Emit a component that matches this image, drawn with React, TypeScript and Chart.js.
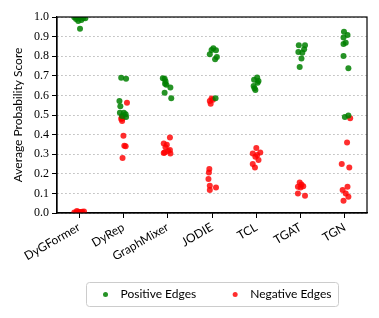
import React, { useEffect, useRef } from "react";
import { Chart, registerables } from "chart.js";

Chart.register(...registerables);

const categories = ["DyGFormer", "DyRep", "GraphMixer", "JODIE", "TCL", "TGAT", "TGN"];

const positiveValues: number[][] = [
  [0.999, 0.998, 0.997, 0.995, 0.993, 0.99, 0.985, 0.98, 0.94],
  [0.69, 0.685, 0.572, 0.545, 0.512, 0.512, 0.504, 0.49, 0.495],
  [0.687, 0.685, 0.672, 0.66, 0.64, 0.614, 0.586, 0.654],
  [0.84, 0.832, 0.83, 0.81, 0.796, 0.784, 0.586],
  [0.691, 0.68, 0.665, 0.648, 0.637, 0.627, 0.674],
  [0.856, 0.856, 0.835, 0.822, 0.817, 0.788, 0.745],
  [0.925, 0.908, 0.895, 0.869, 0.862, 0.801, 0.739, 0.49, 0.497],
];
const positiveJitter: number[][] = [
  [-0.11, -0.05, 0.02, 0.09, 0.14, -0.07, 0.05, -0.02, 0.02],
  [-0.05, 0.06, -0.09, -0.07, -0.08, 0.01, 0.05, 0.06, -0.03],
  [-0.11, -0.07, -0.05, -0.06, 0.06, -0.07, 0.08, -0.03],
  [0.03, -0.01, 0.09, -0.05, 0.11, 0.07, 0.08],
  [0.02, -0.05, 0.03, -0.06, -0.04, -0.02, 0.05],
  [-0.04, 0.1, 0.08, -0.05, 0.04, 0.02, -0.02],
  [-0.02, 0.06, -0.03, 0.02, -0.03, -0.03, 0.08, 0, 0.08],
];

const negativeValues: number[][] = [
  [0.002, 0.003, 0.004, 0.005, 0.006, 0.008, 0.01, 0.003, 0.004],
  [0.563, 0.487, 0.479, 0.483, 0.47, 0.394, 0.343, 0.34, 0.28],
  [0.385, 0.355, 0.348, 0.335, 0.321, 0.309, 0.304, 0.316, 0.306],
  [0.584, 0.572, 0.558, 0.578, 0.224, 0.207, 0.173, 0.139, 0.13, 0.117],
  [0.331, 0.304, 0.309, 0.287, 0.27, 0.25, 0.232, 0.296],
  [0.156, 0.134, 0.136, 0.145, 0.1, 0.088, 0.13],
  [0.484, 0.36, 0.25, 0.232, 0.134, 0.117, 0.1, 0.083, 0.063],
];
const negativeJitter: number[][] = [
  [-0.11, -0.07, -0.02, 0.02, 0.07, 0.11, -0.05, 0.05, 0],
  [0.08, -0.04, -0.05, -0.02, -0.03, 0, 0.02, 0.05, -0.02],
  [0.05, -0.09, -0.02, -0.05, 0.05, -0.07, 0.06, 0.01, -0.09],
  [-0.01, -0.05, -0.03, 0.02, -0.06, -0.07, -0.08, -0.05, 0.09, -0.05],
  [0, -0.08, 0.09, -0.02, 0.05, -0.08, -0.03, 0.02],
  [-0.02, -0.06, 0.06, 0.02, -0.06, 0.1, 0],
  [0.12, 0.05, -0.07, 0.1, 0.06, -0.05, 0.02, 0.08, -0.03],
];

const seriesLabels = ["Positive Edges", "Negative Edges"];
const seriesColors = ["rgba(0,128,0,0.85)", "rgba(255,0,0,0.82)"];
const yTitle = "Average Probability Score";

const FONT = "Lato, 'DejaVu Sans', sans-serif";
const SERIF = "'Liberation Serif', 'DejaVu Serif', serif";

function toPoints(values: number[][], jitter: number[][]) {
  return values.flatMap((arr, i) => arr.map((v, j) => ({ x: i + jitter[i][j], y: v })));
}

const framePlugin = {
  id: "frame",
  afterDatasetsDraw(chart: any) {
    const { ctx, chartArea } = chart;
    ctx.save();
    ctx.strokeStyle = "#000";
    ctx.lineWidth = 1.2;
    ctx.strokeRect(chartArea.left, chartArea.top, chartArea.right - chartArea.left, chartArea.bottom - chartArea.top);
    ctx.restore();
  },
};

const legendPlugin = {
  id: "boxLegend",
  afterDraw(chart: any) {
    const { ctx, chartArea, height } = chart;
    ctx.save();
    ctx.font = `12px ${FONT}`;
    const w = seriesLabels.map((t) => ctx.measureText(t).width);
    const padL = 19, dotGap = 15, itemGap = 39, padR = 7;
    const boxW = padL + dotGap + w[0] + itemGap + dotGap + w[1] + padR;
    const boxH = 24;
    const cx = (chartArea.left + chartArea.right) / 2;
    const bx = Math.round(cx - boxW / 2) + 0.5;
    const by = height - 36 + 0.5;
    ctx.strokeStyle = "#cccccc";
    ctx.lineWidth = 1;
    ctx.beginPath();
    (ctx as any).roundRect(bx, by, boxW, boxH, 3);
    ctx.stroke();
    let x = bx + padL;
    const cy = by + boxH / 2;
    seriesLabels.forEach((t, i) => {
      ctx.fillStyle = seriesColors[i];
      ctx.beginPath();
      ctx.arc(x, cy, 2.5, 0, Math.PI * 2);
      ctx.fill();
      ctx.fillStyle = "#000";
      ctx.textBaseline = "middle";
      ctx.textAlign = "left";
      ctx.fillText(t, x + dotGap, cy);
      x += dotGap + w[i] + itemGap;
    });
    ctx.restore();
  },
};

export default function App() {
  const ref = useRef<HTMLCanvasElement | null>(null);
  useEffect(() => {
    if (!ref.current) return;
    const chart = new Chart(ref.current, {
      type: "scatter",
      data: {
        datasets: [
          {
            label: seriesLabels[0],
            data: toPoints(positiveValues, positiveJitter),
            backgroundColor: seriesColors[0],
            borderWidth: 0,
            pointRadius: 3,
            clip: 0,
          },
          {
            label: seriesLabels[1],
            data: toPoints(negativeValues, negativeJitter),
            backgroundColor: seriesColors[1],
            borderWidth: 0,
            pointRadius: 3,
            clip: 0,
          },
        ],
      },
      options: {
        animation: false,
        responsive: false,
        layout: { padding: { left: 0, right: 12, top: 17, bottom: 0 } },
        plugins: { legend: { display: false }, tooltip: { enabled: false } },
        scales: {
          x: {
            type: "linear",
            min: -0.5,
            max: 6.5,
            afterBuildTicks: (s: any) => {
              s.ticks = categories.map((_, i) => ({ value: i }));
            },
            afterFit: (s: any) => {
              s.height = 105;
            },
            grid: {
              display: true,
              drawOnChartArea: false,
              drawTicks: true,
              tickLength: 5,
              color: "#000",
              tickColor: "#000",
            },
            border: { display: true, color: "#000", width: 1.2 },
            ticks: {
              autoSkip: false,
              minRotation: 30,
              maxRotation: 30,
              color: "#000",
              padding: 2,
              font: { family: FONT, size: 12 },
              callback: (v: any) => categories[v as number],
            },
          },
          y: {
            min: 0,
            max: 1,
            afterFit: (s: any) => {
              s.width = 57;
            },
            ticks: {
              stepSize: 0.1,
              color: "#000",
              padding: 3,
              font: { family: SERIF, size: 12 },
              callback: (v: any) => Number(v).toFixed(1),
            },
            grid: {
              color: "#b8b8b8",
              lineWidth: 1,
              tickColor: "#000",
              tickLength: 5,
              drawTicks: true,
            },
            border: { display: true, color: "#000", width: 1.2, dash: [1.5, 2.5] },
            title: {
              display: true,
              text: yTitle,
              color: "#000",
              font: { family: FONT, size: 12 },
              padding: { top: 11, bottom: 0 },
            },
          },
        },
      },
      plugins: [framePlugin, legendPlugin],
    });
    return () => chart.destroy();
  }, []);
  return (
    <div style={{ position: "absolute", left: 0, top: 0, width: 379, height: 318 }}>
      <canvas ref={ref} width={379} height={318} />
    </div>
  );
}
